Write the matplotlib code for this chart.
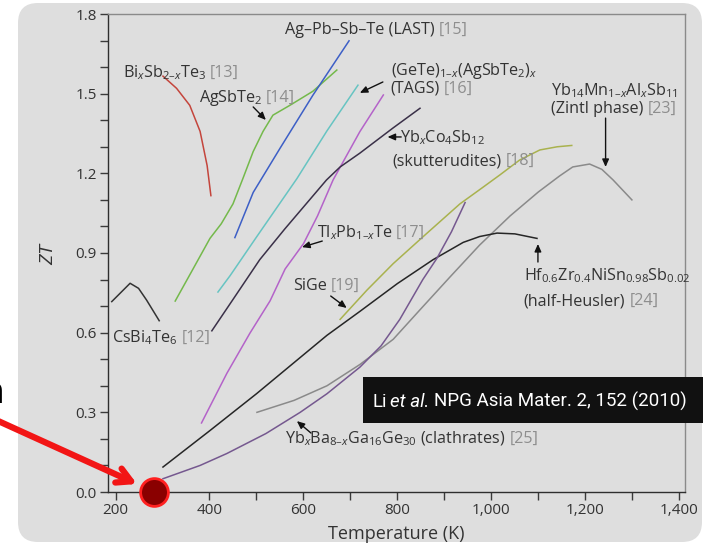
import matplotlib
matplotlib.use("Agg")
import matplotlib.pyplot as plt
import matplotlib.transforms as mtransforms
from matplotlib.patches import FancyBboxPatch, Rectangle
from matplotlib.ticker import MultipleLocator, FuncFormatter

# ---------------- data ----------------
bi_T = [301, 330, 358, 380, 395, 403]
bi_Z = [1.566, 1.52, 1.456, 1.358, 1.229, 1.116]

agsbte_T = [327, 365, 401, 425, 450, 471, 493, 514, 535, 571, 620, 671]
agsbte_Z = [0.719, 0.84, 0.955, 1.01, 1.085, 1.18, 1.282, 1.358, 1.419, 1.456, 1.509, 1.589]

last_T = [454, 493, 550, 620, 697]
last_Z = [0.958, 1.128, 1.294, 1.494, 1.699]

tags_T = [418, 444, 500, 586, 650, 716]
tags_Z = [0.753, 0.815, 0.96, 1.18, 1.36, 1.532]

tlpbte_T = [383, 437, 486, 529, 561, 600, 630, 663, 720, 770]
tlpbte_Z = [0.26, 0.447, 0.598, 0.72, 0.84, 0.935, 1.04, 1.175, 1.357, 1.495]

skut_T = [405, 450, 507, 560, 649, 678, 720, 790, 848]
skut_Z = [0.607, 0.725, 0.875, 0.99, 1.175, 1.224, 1.276, 1.37, 1.445]

sige_T = [678, 735, 791, 860, 933, 980, 1018, 1060, 1103, 1140, 1171]
sige_Z = [0.65, 0.76, 0.86, 0.97, 1.085, 1.145, 1.194, 1.25, 1.288, 1.30, 1.305]

zintl_T = [501, 580, 650, 720, 791, 850, 912, 975, 1040, 1100, 1145, 1173, 1209, 1235, 1259, 1299]
zintl_Z = [0.30, 0.345, 0.40, 0.48, 0.575, 0.69, 0.81, 0.93, 1.04, 1.13, 1.19, 1.224, 1.235, 1.215, 1.175, 1.10]

hh_T = [301, 400, 500, 650, 720, 800, 876, 940, 975, 1012, 1050, 1097]
hh_Z = [0.094, 0.23, 0.37, 0.59, 0.68, 0.785, 0.875, 0.94, 0.962, 0.975, 0.972, 0.955]

clath_T = [301, 380, 437, 520, 593, 650, 720, 765, 805, 854, 884, 915, 944]
clath_Z = [0.05, 0.10, 0.145, 0.22, 0.30, 0.37, 0.47, 0.55, 0.65, 0.80, 0.88, 0.98, 1.09]

cs_T = [192, 231, 249, 266, 293]
cs_Z = [0.717, 0.786, 0.767, 0.723, 0.645]

marker_T = [282]
marker_Z = [0.0]

x_ticks = list(range(200, 1401, 200))
y_ticks = [0.0, 0.3, 0.6, 0.9, 1.2, 1.5, 1.8]

# ---------------- style ----------------
FONT = ["Open Sans", "DejaVu Sans"]
plt.rcParams["font.family"] = FONT
plt.rcParams["mathtext.fontset"] = "custom"
plt.rcParams["mathtext.rm"] = "Open Sans"
plt.rcParams["mathtext.it"] = "Open Sans:italic"
plt.rcParams["mathtext.bf"] = "Open Sans:bold"

TXT = "#333333"
REF = "#8e8e8e"
FS = 11.6

fig = plt.figure(figsize=(7.03, 5.46), dpi=100)
fig.patch.set_facecolor("white")

panel = FancyBboxPatch((18, 4), 684, 539, boxstyle="round,pad=0,rounding_size=20",
                       transform=mtransforms.IdentityTransform(),
                       facecolor="#dedede", edgecolor="none", zorder=-10)
fig.patches.append(panel)

ax = fig.add_axes([108 / 703, 1 - 492 / 546, 577 / 703, 478 / 546])
ax.set_facecolor("none")
ax.set_xlim(184, 1412)
ax.set_ylim(0, 1.8)

for side in ["left", "bottom"]:
    ax.spines[side].set_color("#2e2e2e")
    ax.spines[side].set_linewidth(1.0)
for side in ["top", "right"]:
    ax.spines[side].set_color("#8a8a8a")
    ax.spines[side].set_linewidth(1.0)

ax.set_xticks(x_ticks)
ax.xaxis.set_minor_locator(MultipleLocator(100))
ax.set_yticks(y_ticks)
ax.yaxis.set_minor_locator(MultipleLocator(0.1))
ax.xaxis.set_major_formatter(FuncFormatter(lambda v, p: f"{int(v):,}"))
ax.yaxis.set_major_formatter(FuncFormatter(lambda v, p: f"{v:.1f}"))
ax.tick_params(which="both", direction="out", length=6, width=1, color="#3a3a3a",
               top=False, right=False)
ax.tick_params(which="major", labelsize=11, labelcolor=TXT, pad=2)

ax.set_xlabel("Temperature (K)", fontsize=13, color=TXT, labelpad=5)
ax.set_ylabel("$ZT$", fontsize=14, color=TXT, labelpad=13)

lw = 1.1
ax.plot(bi_T, bi_Z, color="#c4453c", lw=lw)
ax.plot(agsbte_T, agsbte_Z, color="#74b94b", lw=lw)
ax.plot(last_T, last_Z, color="#3d5fc6", lw=lw)
ax.plot(tags_T, tags_Z, color="#67c4c2", lw=lw)
ax.plot(tlpbte_T, tlpbte_Z, color="#b463c9", lw=lw)
ax.plot(skut_T, skut_Z, color="#3a3048", lw=lw)
ax.plot(sige_T, sige_Z, color="#a9b24e", lw=lw)
ax.plot(zintl_T, zintl_Z, color="#8a8a8a", lw=lw)
ax.plot(hh_T, hh_Z, color="#262626", lw=lw)
ax.plot(clath_T, clath_Z, color="#75588f", lw=lw)
ax.plot(cs_T, cs_Z, color="#333333", lw=lw)

renderer = fig.canvas.get_renderer()


def rich(x, y, pieces, fs=FS, transform=None, gap=4, **kw):
    use_ax = transform is None
    if use_ax:
        transform = ax.transData
    off = 0.0
    for s, c, style in pieces:
        tr = mtransforms.offset_copy(transform, fig=fig, x=off, y=0, units="dots")
        host = ax if use_ax else fig
        t = host.text(x, y, s, color=c, fontsize=fs, transform=tr, va="baseline",
                      ha="left", fontstyle=style, **kw)
        bb = t.get_window_extent(renderer=renderer)
        off += bb.width + gap


def arrow(x0, y0, x1, y1):
    ax.annotate("", xy=(x1, y1), xytext=(x0, y0),
                arrowprops=dict(arrowstyle="-|>,head_length=0.45,head_width=0.2",
                                color="#111111", lw=1.0, shrinkA=0, shrinkB=0))


rich(216, 1.563, [("Bi$_x$Sb$_{2–x}$Te$_3$", TXT, "normal"), ("[13]", REF, "normal")], gap=3)
rich(378, 1.469, [("AgSbTe$_2$", TXT, "normal"), ("[14]", REF, "normal")], gap=3)
arrow(493, 1.450, 520, 1.401)
rich(561, 1.725, [("Ag–Pb–Sb–Te (LAST)", TXT, "normal"), ("[15]", REF, "normal")])
rich(786, 1.570, [("(GeTe)$_{1–x}$(AgSbTe$_2$)$_x$", TXT, "normal")])
rich(786, 1.503, [("(TAGS)", TXT, "normal"), ("[16]", REF, "normal")])
arrow(769, 1.544, 720, 1.503)
rich(805, 1.318, [("Yb$_x$Co$_4$Sb$_{12}$", TXT, "normal")])
arrow(808, 1.337, 779, 1.337)
rich(790, 1.231, [("(skutterudites)", TXT, "normal"), ("[18]", REF, "normal")])
rich(1127, 1.495, [("Yb$_{14}$Mn$_{1–x}$Al$_x$Sb$_{11}$", TXT, "normal")])
rich(1127, 1.427, [("(Zintl phase)", TXT, "normal"), ("[23]", REF, "normal")])
arrow(1243, 1.408, 1243, 1.224)
rich(628, 0.960, [("Tl$_x$Pb$_{1–x}$Te", TXT, "normal"), ("[17]", REF, "normal")], gap=3)
arrow(640, 0.945, 597, 0.922)
rich(578, 0.761, [("SiGe", TXT, "normal"), ("[19]", REF, "normal")])
arrow(658, 0.738, 692, 0.693)
rich(193, 0.565, [("CsBi$_4$Te$_6$", TXT, "normal"), ("[12]", REF, "normal")])
rich(1069, 0.798, [("Hf$_{0.6}$Zr$_{0.4}$NiSn$_{0.98}$Sb$_{0.02}$", TXT, "normal")])
rich(1069, 0.704, [("(half-Heusler)", TXT, "normal"), ("[24]", REF, "normal")])
arrow(1099, 0.866, 1099, 0.934)
rich(561, 0.185, [("Yb$_x$Ba$_{8–x}$Ga$_{16}$Ge$_{30}$ (clathrates)", TXT, "normal"), ("[25]", REF, "normal")])
arrow(616, 0.222, 586, 0.267)

# citation box
box = Rectangle((363 / 703, 1 - 423 / 546), 345 / 703, 46 / 546, transform=fig.transFigure,
                facecolor="#111111", edgecolor="none", zorder=5)
fig.patches.append(box)
NARROW = ["Roboto", "DejaVu Sans"]
rich(372 / 703, 1 - 407 / 546,
     [("Li", "white", "normal"), ("et al.", "white", "italic"),
      ("NPG Asia Mater. 2, 152 (2010)", "white", "normal")],
     fs=13.5, transform=fig.transFigure, gap=4, family=NARROW, zorder=6)

# red pointer and marker
fig.text(4 / 703, 1 - 403 / 546, "n", ha="right", va="baseline", fontsize=26,
         fontweight="bold", family=["Liberation Sans", "DejaVu Sans"], color="black")
ax.annotate("", xy=(137, 546 - 484), xytext=(-4, 546 - 420), xycoords="figure pixels",
            textcoords="figure pixels",
            arrowprops=dict(arrowstyle="->,head_length=1.0,head_width=0.55",
                            color="#f21515", lw=4.5, shrinkA=0, shrinkB=0), zorder=8,
            annotation_clip=False)
ax.plot(marker_T, marker_Z, "o", ms=20, mfc="#8a0000", mec="#ff2020", mew=2,
        clip_on=False, zorder=9)

fig.savefig("out.png", dpi=100)
